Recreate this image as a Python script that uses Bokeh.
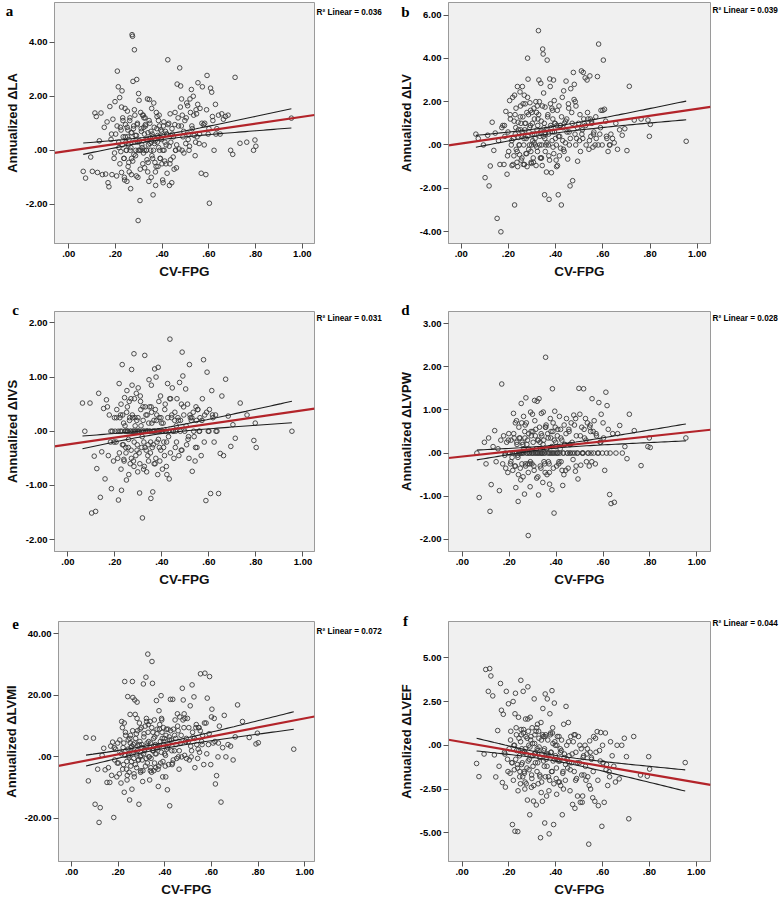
import numpy as np
from bokeh.plotting import figure
from bokeh.layouts import row, column
from bokeh.models import Range1d, FixedTicker, CustomJSTickFormatter, Label
from bokeh.embed import file_html
from bokeh.resources import INLINE

# ---------------- data ----------------
CV_FPG = [
    0.062, 0.072, 0.094, 0.101, 0.112, 0.118, 0.123, 0.131, 0.138, 0.144, 0.152, 0.158, 0.164, 0.168,
    0.172, 0.176, 0.181, 0.185, 0.189, 0.194, 0.198, 0.201, 0.205, 0.208, 0.212, 0.215,
    0.218, 0.221, 0.223, 0.226, 0.228, 0.231, 0.233, 0.236, 0.238, 0.241, 0.243, 0.245, 0.247, 0.249,
    0.251, 0.253, 0.255, 0.257, 0.259, 0.261, 0.263, 0.265,
    0.267, 0.269, 0.271, 0.273, 0.275, 0.277, 0.279, 0.281, 0.283, 0.285, 0.287, 0.289, 0.291, 0.293,
    0.295, 0.297, 0.299, 0.301, 0.303, 0.305, 0.308, 0.311, 0.314, 0.317,
    0.319, 0.321, 0.323, 0.325, 0.327, 0.329, 0.331, 0.333, 0.335, 0.337, 0.339, 0.341, 0.343, 0.345,
    0.347, 0.349, 0.351, 0.353, 0.355, 0.357, 0.359, 0.361, 0.364, 0.367,
    0.369, 0.372, 0.375, 0.377, 0.379, 0.382, 0.384, 0.386, 0.389, 0.391, 0.394, 0.396, 0.399, 0.402,
    0.405, 0.408, 0.411, 0.414, 0.417, 0.421, 0.424, 0.428,
    0.431, 0.434, 0.437, 0.441, 0.444, 0.447, 0.451, 0.454, 0.457, 0.461, 0.464, 0.468, 0.472, 0.475,
    0.479, 0.482, 0.486, 0.489, 0.493, 0.497,
    0.501, 0.505, 0.509, 0.513, 0.517, 0.521, 0.525, 0.529, 0.533, 0.537, 0.541, 0.545, 0.549, 0.553,
    0.558, 0.562, 0.567, 0.572,
    0.577, 0.582, 0.587, 0.592, 0.597, 0.602, 0.607, 0.612, 0.617, 0.622, 0.628, 0.634, 0.641, 0.648,
    0.655, 0.662,
    0.671, 0.682, 0.693, 0.702, 0.712, 0.733, 0.762, 0.791, 0.797, 0.801, 0.953,
    # denser core of the cloud
    0.183, 0.196, 0.207, 0.214, 0.219, 0.224, 0.229, 0.232, 0.237, 0.242,
    0.246, 0.250, 0.254, 0.258, 0.262, 0.266, 0.270, 0.274, 0.278, 0.282,
    0.286, 0.290, 0.294, 0.298, 0.302, 0.306, 0.310, 0.313, 0.316, 0.320,
    0.324, 0.328, 0.332, 0.336, 0.340, 0.344, 0.348, 0.352, 0.356, 0.360,
    0.363, 0.366, 0.370, 0.374, 0.378, 0.381, 0.385, 0.388, 0.392, 0.395,
    0.398, 0.403, 0.407, 0.412, 0.416, 0.420, 0.425, 0.430, 0.436, 0.442,
    0.448, 0.455, 0.462, 0.470, 0.478, 0.485, 0.492, 0.503, 0.511, 0.519,
    0.527, 0.535, 0.543, 0.552, 0.560, 0.570, 0.580, 0.590, 0.600, 0.615,
    0.226, 0.239, 0.252, 0.268, 0.281, 0.296, 0.309, 0.322, 0.338, 0.354,
    0.371, 0.387, 0.404, 0.419, 0.433, 0.458, 0.483, 0.515, 0.547, 0.630,
]

D_LA = [
    -0.78, -1.03, -0.25, -0.78, 1.38, 1.25, -0.82, 0.35, 1.38, -0.90, 0.85, -0.88, 1.05, -1.20,
    -1.35, 1.62, 0.40, -0.90, 1.15, -0.30, 1.80, 0.60, -0.95, 2.93, 2.35, 0.10,
    1.95, 0.85, -0.05, -0.82, 2.20, 1.20, 0.50, -0.30, -1.00, 1.55, 0.95, 0.30, 0.00, -1.15,
    1.45, 0.75, 0.20, -0.45, -0.80, 1.10, 0.00, -1.42,
    0.65, -0.30, 4.28, 4.22, 2.55, 0.80, -0.15, 3.72, 1.30, 0.55, 0.00, -0.95, 2.62, 0.95,
    0.30, -2.60, 2.10, 1.85, 0.00, -1.86, 1.40, 0.70, 0.10, -0.50,
    1.30, 0.85, 0.00, -0.65, 1.20, 0.90, 0.40, 0.00, -0.35, 1.90, 0.65, 0.20, -1.15, 1.88,
    1.00, 0.45, 0.00, -1.00, 1.55, 0.60, -0.30, -1.65, 1.75, 0.25,
    -0.45, -1.30, 1.40, 0.80, 0.30, -0.60, 1.10, 0.50, 0.00, -0.30, 0.75, 0.40, -0.50, -1.10,
    0.90, 0.00, -0.40, 0.70, 0.20, -0.85, 3.35, 1.00,
    -1.30, 1.35, 0.30, -1.20, 0.60, -0.25, -0.70, 0.95, 0.00, -0.65, 2.45, 1.20, 0.05, 3.05,
    2.38, 0.90, 1.30, 0.50, -0.10, 1.10,
    0.25, 1.75, 1.65, 0.60, 0.15, 1.40, 2.25, 0.80, 2.00, 0.55, -0.20, 1.50, 0.50, 2.50,
    0.25, 1.55, -0.85, 2.35,
    0.95, 1.00, -0.90, 2.77, 0.60, -1.96, 2.30, 2.15, 1.10, 0.00, 1.70, 0.80, 1.30, 0.60,
    1.35, 1.15,
    1.25, 1.30, 0.00, -0.15, 2.70, 0.26, 0.30, 0.00, 0.38, 0.15, 1.19,
    0.6, -0.1, 0.9, 0.3, -0.5, 0.75, 0.2, 1.1, -0.3, 0.5,
    0.0, 0.85, -0.6, 0.4, 1.2, 0.1, 0.65, -0.4, 0.9, 0.3,
    -0.2, 0.55, 1.0, 0.0, 0.35, -0.7, 0.8, 0.2, 1.3, -0.1,
    0.6, 0.95, 0.0, 0.4, -0.45, 1.1, 0.25, 0.7, -0.2, 0.5,
    0.0, 0.85, 0.35, -0.6, 1.25, 0.55, 0.1, 0.9, -0.3, 0.45,
    0.7, 0.0, 1.05, 0.3, -0.5, 0.6, 0.95, 0.15, -0.35, 0.8,
    0.5, 1.4, 0.2, 0.9, 1.6, 0.0, 0.7, 1.2, 0.4, 1.9,
    0.9, 1.3, 0.3, 1.7, 0.6, 1.0, 0.2, 1.5, 0.8, 1.25,
    1.6, -1.1, 0.5, -0.9, 1.5, -1.0, 0.0, 1.2, -0.8, 0.3,
    -0.8, 1.3, -1.2, 0.6, -0.5, 0.0, 1.9, 0.0, 1.35, 0.6,
]

D_LV = [
    0.50, 0.30, 0.00, -1.51, 0.45, -1.89, -0.97, 1.05, -0.25, 0.55, -3.39, 0.20, -0.90, -4.01,
    0.80, 0.90, -0.90, 0.40, 1.55, -1.35, 0.60, -0.30, 2.05, 1.20, 0.00, -0.95,
    2.20, 0.30, -0.50, -2.77, 1.40, 0.80, -0.20, -0.80, 2.70, 1.05, 0.35, 0.00, -0.45, 2.45,
    1.80, 1.00, 0.40, -0.60, 2.70, 1.30, -0.90, 0.00,
    2.30, 0.70, 1.90, 1.00, 0.30, -0.40, -1.00, 4.01, 3.04, 1.40, 0.60, 0.00, 1.95, 0.90,
    -0.30, -0.85, 1.50, 1.00, 0.20, -0.60, 1.70, 0.50, 0.00, -0.95,
    1.50, 0.70, -0.30, 1.20, 5.28, 3.00, 2.00, 0.40, -0.60, 2.85, 1.10, 0.00, -0.95, 4.43,
    4.20, 2.40, 0.80, -2.30, 1.75, 0.50, 0.00, -1.25, 3.92, 1.40,
    0.00, -2.51, 3.05, 2.70, 0.90, -1.28, 1.70, 0.60, -0.10, 3.00, 2.05, 1.00, 0.30, -0.70,
    0.90, -0.95, -2.30, 1.80, 0.40, -0.15, -2.77, 2.20,
    0.80, 2.50, 1.00, 0.10, 2.95, 1.20, -0.65, 1.90, 0.60, -1.89, 2.60, 1.50, -1.65, 3.35,
    2.80, 0.50, 1.80, 0.30, -0.75, 1.00,
    0.20, -0.30, 3.42, 0.70, 3.35, 1.00, 3.10, 0.00, 3.00, 1.20, -0.20, 3.19, 0.40, 1.00,
    -0.10, 0.60, 0.00, 0.30,
    3.16, 4.66, 0.50, 1.60, 0.00, 3.92, 1.65, 1.10, 0.30, -0.30, 0.00, 0.50, 0.30, 0.10,
    1.00, -0.20,
    0.70, 0.45, 0.75, -0.26, 2.71, 1.15, 1.20, 1.15, 0.40, 0.95, 0.17,
    0.9, -0.5, 1.4, 0.2, -0.9, 1.1, 0.5, 1.7, -0.3, 0.7,
    0.0, 1.3, -0.7, 0.6, 1.9, 0.3, 1.0, -0.4, 1.5, 0.4,
    -0.2, 0.8, 1.6, 0.0, 0.5, -0.8, 1.2, 0.3, 2.0, -0.1,
    0.9, 1.4, 0.0, 0.6, -0.6, 1.8, 0.4, 1.0, -0.3, 0.7,
    0.1, 1.3, 0.5, -0.7, 1.9, 0.8, 0.2, 1.2, -0.4, 0.6,
    1.0, 0.0, 1.6, 0.4, -0.5, 0.9, 1.3, 0.2, -0.3, 1.1,
    0.6, 1.7, 0.3, 1.0, 2.1, 0.0, 0.8, 1.4, 0.5, 1.2,
    0.9, 1.5, 0.2, 1.1, 0.5, 1.3, 0.0, 0.8, 1.6, 0.4,
    2.3, -1.0, 0.7, -0.9, 2.2, -0.8, 0.1, 1.8, -0.6, 0.3,
    -0.5, 1.6, -1.0, 0.9, -0.2, 0.0, 2.0, 0.3, 1.2, 0.0,
]

D_IVS = [
    0.52, 0.00, 0.52, -1.51, -0.46, -1.48, -0.69, 0.70, -1.22, -0.38, 0.42, -0.88, 0.58, 0.45,
    -0.45, 0.30, -0.20, -1.06, 0.00, -0.55, 0.25, 0.00, -0.20, 0.40, -0.50, -1.27,
    0.88, 0.25, 0.00, -0.70, -1.09, 1.23, 0.30, -0.25, -0.52, 0.62, 0.10, 0.00, -0.40, -0.90,
    0.75, 0.45, 0.00, -0.30, -0.80, 0.55, 0.25, -0.60,
    0.00, -0.35, 1.14, 0.85, 0.25, 0.00, -0.55, 1.43, 0.60, 0.25, 0.00, -0.45, 0.70, 0.20,
    -0.25, -0.75, 0.80, 0.00, -0.40, -1.14, 0.65, 0.10, -0.30, -1.60,
    0.45, 0.00, -0.20, -0.65, 1.40, 0.45, 0.00, -0.35, -0.75, 0.30, 0.00, -0.25, -0.55, 0.95,
    0.45, 0.00, -0.40, -1.24, 0.85, 0.15, -0.30, -1.12, 0.00, -0.60,
    1.15, 0.40, 1.00, 0.20, -0.20, -0.80, 1.18, 0.00, -0.30, -0.55, 0.65, 0.25, 0.00, -0.70,
    0.15, -0.20, -0.45, 0.50, 0.00, -0.80, 0.88, -0.10,
    -0.88, 1.70, 0.60, 0.25, 0.80, 0.00, -0.50, 0.20, -0.30, 0.10, 0.60, 0.25, -0.45, 0.90,
    0.20, -0.35, 1.46, 1.02, 0.30, 0.00,
    0.78, -0.25, 0.50, -0.10, 1.23, 0.25, 0.20, -0.74, 0.35, -0.10, -0.55, 0.45, -0.30, 0.40,
    0.00, 0.25, -0.45, 0.60,
    1.32, 0.30, -1.28, 1.09, 0.00, 0.40, -1.15, 0.75, 0.25, -0.20, 0.30, 0.00, -1.15, -0.41,
    0.65, -0.45,
    0.96, 0.28, -0.28, 0.12, -0.13, 0.52, 0.30, -0.17, 0.15, -0.30, 0.00,
    0.0, -0.2, 0.25, 0.0, -0.4, 0.3, 0.0, -0.25, 0.15, 0.0,
    -0.3, 0.35, 0.0, -0.15, 0.2, 0.0, -0.5, 0.3, 0.0, -0.2,
    0.1, 0.0, -0.35, 0.25, 0.0, -0.6, 0.4, 0.0, -0.1, 0.2,
    0.0, -0.3, 0.3, 0.0, -0.45, 0.15, 0.0, -0.2, 0.35, 0.0,
    -0.25, 0.2, 0.0, -0.5, 0.3, 0.0, -0.15, 0.25, 0.0, -0.35,
    0.15, 0.0, -0.3, 0.4, 0.0, -0.2, 0.25, 0.0, -0.4, 0.3,
    0.0, 0.35, -0.2, 0.2, 0.0, -0.35, 0.45, 0.1, -0.15, 0.3,
    0.25, 0.0, -0.3, 0.4, 0.0, 0.2, -0.2, 0.35, 0.0, 0.3,
    0.5, -0.55, 0.0, 0.6, -0.65, 0.0, 0.55, -0.7, 0.0, 0.45,
    -0.6, 0.55, 0.0, -0.65, 0.6, 0.0, 0.5, -0.5, 0.2, 0.0,
]

D_LVPW = [
    0.00, -1.03, 0.25, -0.25, 0.35, -1.35, -0.73, 0.15, 0.52, -0.20, 0.10, -0.87, 0.30, 1.60,
    -0.25, 0.40, -0.05, -0.35, 0.25, -0.45, 0.45, 0.00, -0.25, 0.30, -0.10, -0.40,
    0.92, 0.35, 0.00, -0.30, -0.80, 0.75, 0.20, -0.05, -1.12, 0.60, 0.35, 0.00, -0.35, -0.62,
    1.15, 0.70, 0.25, 0.00, -0.55, 0.85, 0.10, -0.95,
    0.35, -0.25, 1.28, 0.70, 0.20, 0.00, -0.25, -1.91, 0.45, 0.00, -0.25, -0.78, 0.95, 0.50,
    0.05, -0.25, 0.90, 0.50, 0.00, -0.30, 1.22, 0.40, 0.00, -0.58,
    1.20, 0.30, 0.00, -0.97, 1.26, 0.60, 0.25, 0.00, -0.35, 0.92, 0.40, 0.00, -0.68, 0.95,
    0.30, 0.00, -0.25, -0.45, 2.22, 0.65, 0.10, -0.50, 0.45, -0.20,
    0.00, -0.72, 0.80, 0.35, 0.00, -0.85, 1.49, 0.50, 0.00, -1.39, 0.97, 0.60, 0.15, -0.30,
    0.40, 0.00, -0.25, 0.85, 0.10, -0.20, 0.30, -0.75,
    0.00, 0.65, 0.20, -0.40, 0.80, 0.00, -0.35, 0.55, 0.20, 0.00, 0.70, 0.25, -0.15, 0.88,
    0.00, -0.42, 0.40, 0.00, -0.60, 1.50,
    0.90, -0.28, 0.60, 0.00, 1.49, 0.35, 0.80, -0.20, 0.70, 0.00, -0.30, 0.65, 0.00, 1.26,
    0.50, 0.75, -0.25, 0.40,
    0.00, 1.17, 0.25, 0.90, 0.00, 0.35, -0.40, 1.41, 1.10, 0.55, -0.96, -1.17, 0.45, -1.14,
    0.00, 0.45,
    0.64, 0.00, 0.15, -0.13, 0.90, 0.52, -0.29, 0.15, 0.35, 0.13, 0.35,
    0.0, 0.3, -0.2, 0.0, 0.45, -0.3, 0.0, 0.25, -0.1, 0.0,
    0.35, 0.0, -0.25, 0.2, 0.0, 0.5, -0.3, 0.0, 0.3, 0.1,
    0.0, -0.2, 0.4, 0.0, 0.25, -0.4, 0.0, 0.55, 0.1, 0.0,
    0.3, 0.0, -0.3, 0.45, 0.0, 0.2, -0.2, 0.0, 0.6, 0.1,
    0.0, 0.35, -0.25, 0.0, 0.5, 0.15, 0.0, -0.35, 0.3, 0.0,
    0.25, 0.0, 0.55, -0.2, 0.0, 0.35, -0.4, 0.0, 0.2, 0.45,
    0.0, 0.5, 0.2, 0.0, 0.65, -0.3, 0.0, 0.4, 0.0, 0.55,
    0.3, 0.0, 0.6, -0.2, 0.0, 0.45, 0.0, 0.25, 0.7, 0.0,
    0.7, -0.5, 0.0, 0.65, -0.45, 0.0, 0.75, -0.55, 0.0, 0.6,
    -0.45, 0.7, 0.0, 0.55, -0.5, 0.0, 0.8, 0.0, 0.5, 0.0,
]

D_LVMI = [
    6.3, -7.8, 6.1, -15.4, -4.0, -21.3, -16.5, 0.5, 2.8, -4.2, -8.3, -3.5, -8.3, 3.5,
    -6.0, 4.8, -19.7, -1.0, 2.5, -6.5, 4.5, -2.0, -5.5, 1.5, -8.5, 11.5,
    9.5, 3.0, -2.5, -11.5, 24.5, 8.0, 2.0, -4.0, -7.5, 19.6, 5.5, 0.5, -5.0, -14.0,
    13.8, 7.0, 3.0, -1.5, -10.5, 24.5, 19.3, 4.0,
    -0.5, -6.5, 18.5, 13.8, 6.0, 1.0, -3.5, 17.8, 8.5, 3.5, -1.0, -15.4, 11.0, 5.0,
    0.0, -4.5, 9.5, 4.0, -1.0, -8.0, 23.7, 7.5, 2.5, -3.0,
    25.9, 12.5, 3.5, -2.0, 33.4, 10.5, 5.0, 0.0, -7.5, 11.5, 4.5, -0.5, -5.0, 31.0,
    23.9, 8.0, 2.0, -4.5, 12.0, 6.5, 1.0, -3.5, 18.3, 9.0,
    3.0, -9.6, 15.0, 9.0, 3.5, -2.0, 19.9, 12.5, 6.0, -6.5, 9.5, 5.0, 1.0, -3.0,
    7.0, 2.5, -10.7, 9.0, 4.0, -15.9, 18.7, 5.5,
    -2.5, 18.7, 9.0, 2.0, 12.0, 6.0, -0.5, 14.0, 8.5, -4.0, 13.0, 4.5, 0.0, 22.3,
    18.5, 9.5, 12.5, 5.0, -0.5, 12.5,
    5.0, -1.0, 16.6, 0.0, 23.4, 6.5, 19.5, -3.5, 9.5, 4.0, -0.5, 9.5, 1.5, 27.0,
    5.0, 7.0, -2.5, 27.2,
    11.0, 19.1, 4.0, 26.1, -2.5, 15.5, 4.5, 12.5, -8.8, -6.1, 0.0, 10.0, -14.7, 3.0,
    13.5, 0.0,
    4.0, 3.5, -1.0, 6.5, 16.9, 11.5, 6.3, 4.2, 7.7, 4.6, 2.5,
    3.0, -2.0, 5.5, 1.0, -4.0, 4.5, 0.5, 7.0, -1.5, 2.5,
    0.0, 6.0, -3.0, 3.5, 8.5, 1.5, 4.5, -2.5, 7.5, 2.0,
    -1.0, 4.0, 9.0, 0.5, 3.0, -4.5, 6.5, 2.0, 10.0, -0.5,
    4.5, 8.0, 0.0, 3.0, -3.5, 9.5, 2.0, 6.0, -2.0, 4.0,
    1.0, 7.5, 3.5, -3.0, 10.5, 5.0, 1.5, 8.0, -1.5, 4.0,
    6.0, 0.5, 9.0, 3.0, -2.5, 5.5, 8.5, 2.0, -1.0, 7.0,
    4.0, 10.0, 2.0, 7.0, 12.0, 0.5, 6.0, 9.5, 3.5, 8.0,
    6.0, 10.5, 2.5, 8.5, 4.0, 11.0, 1.0, 7.5, 13.0, 5.0,
    11.0, -6.0, 4.5, -5.5, 12.5, -5.0, 1.0, 11.5, -4.5, 3.5,
    -4.0, 12.0, -6.5, 6.5, -2.0, 0.0, 14.0, 2.0, 9.5, 4.5,
]

D_LVEF = [
    -1.04, -1.79, -0.50, 4.33, 3.08, 4.38, 3.96, 2.82, -0.55, -1.81, 0.84, -1.20, 3.53, 2.00,
    -2.13, 1.77, -0.40, -2.39, 3.08, -0.80, 2.37, -0.20, -1.60, 0.80, -1.00, -4.53,
    2.50, 0.00, -1.40, -4.91, 2.97, 1.00, -0.30, -1.10, -4.93, 1.60, 0.40, -0.60, -1.50, -2.20,
    3.71, 0.60, -0.20, -1.00, -1.80, 3.08, 0.90, -1.50,
    -0.40, -2.10, 1.50, 0.50, -0.50, -1.30, -3.13, 3.34, 0.80, 0.00, -0.80, -3.97, 1.60, 0.30,
    -0.60, -1.70, 1.00, 0.10, -1.20, -3.19, 2.65, 0.60, -0.40, -3.41,
    1.00, -0.20, -1.00, -2.20, 0.80, -0.10, -0.70, -1.80, -5.28, 1.30, 0.30, -0.50, -3.20, 2.10,
    0.50, -0.30, -1.20, -4.44, 2.93, 0.60, -0.80, -2.90, 2.65, -0.50,
    -1.80, -5.06, 1.80, 0.60, -0.40, -1.50, 3.12, 0.70, -0.90, -4.53, 2.41, 0.20, -0.60, -1.90,
    0.00, -0.80, -2.10, 0.50, -0.90, -2.30, -0.30, -3.97,
    -1.50, 1.20, -0.50, -2.00, 2.22, 0.00, -1.30, 1.30, -0.60, -2.60, 0.50, -1.00, -3.38, 0.20,
    -1.50, -3.60, -0.40, -1.90, -2.90, 0.50,
    -1.00, -3.26, -0.20, -3.26, -0.70, -1.70, 0.00, -2.00, -0.50, -1.80, -5.65, 0.25, -2.50, -0.80,
    -3.00, 0.50, -3.20, -0.40,
    0.78, -3.45, -0.30, 0.73, -4.63, -1.00, -3.26, 0.70, -1.10, -2.30, -1.51, 0.20, -0.60, -1.20,
    -2.10, 0.00,
    -1.92, 0.00, 0.40, -0.65, -4.20, 0.50, -1.70, -1.77, -0.65, -1.36, -0.99,
    -0.5, -1.5, 0.3, -1.0, -2.0, 0.0, -0.8, 0.6, -1.3, -0.3,
    -1.8, 0.2, -1.1, -0.4, 0.7, -1.6, -0.2, -2.2, 0.4, -0.9,
    -1.4, -0.1, 0.5, -1.9, -0.6, -2.3, 0.1, -1.0, 0.8, -1.5,
    -0.3, 0.4, -1.7, -0.7, -2.1, 0.6, -0.9, -0.2, -1.8, -0.5,
    -1.2, 0.3, -0.6, -2.0, 0.7, -0.4, -1.5, 0.1, -2.2, -0.8,
    0.0, -1.3, 0.5, -0.9, -2.1, -0.4, 0.3, -1.6, -0.7, -1.1,
    -0.8, 0.2, -1.4, -0.5, 0.6, -2.0, -1.0, 0.0, -1.7, -0.6,
    -1.2, -0.2, -2.3, -0.7, -1.5, 0.4, -2.0, -0.9, 0.0, -1.4,
    1.8, -2.6, 0.9, -2.5, 1.5, -2.4, -0.5, 1.2, -2.7, 0.5,
    -2.6, 1.0, -2.8, -0.2, -2.5, -1.0, 0.6, -2.9, -0.4, -1.8,
]

X_TICKS = [0.0, 0.2, 0.4, 0.6, 0.8, 1.0]
Y_TICKS_LA = [-2, 0, 2, 4]
Y_TICKS_LV = [-4, -2, 0, 2, 4, 6]
Y_TICKS_IVS = [-2, -1, 0, 1, 2]
Y_TICKS_LVPW = [-2, -1, 0, 1, 2, 3]
Y_TICKS_LVMI = [-20, 0, 20, 40]
Y_TICKS_LVEF = [-5, -2.5, 0, 2.5, 5]

PANEL_LETTERS = ["a", "b", "c", "d", "e", "f"]
Y_LABELS = ["Annualized \u0394LA", "Annualized \u0394LV", "Annualized \u0394IVS",
            "Annualized \u0394LVPW", "Annualized \u0394LVMI", "Annualized \u0394LVEF"]
R2_VALUES = ["0.036", "0.039", "0.031", "0.028", "0.072", "0.044"]
# linear fit: intercept, slope
FIT_INTERCEPT = [-0.02, 0.07, -0.245, -0.08, -2.1, 0.18]
FIT_SLOPE = [1.26, 1.60, 0.63, 0.587, 14.6, -2.30]
# 95% CI of the mean: half-width at the centre and its growth with distance
CI_H0 = [0.085, 0.16, 0.05, 0.037, 0.93, 0.16]
CI_K = [0.60, 0.70, 0.334, 0.336, 4.71, 1.02]

Y_SERIES = [D_LA, D_LV, D_IVS, D_LVPW, D_LVMI, D_LVEF]
Y_TICKS = [Y_TICKS_LA, Y_TICKS_LV, Y_TICKS_IVS, Y_TICKS_LVPW, Y_TICKS_LVMI, Y_TICKS_LVEF]

# ---------------- layout / style ----------------
X_RANGES = [(-0.061, 1.052), (-0.054, 1.056), (-0.057, 1.049),
            (-0.059, 1.058), (-0.056, 1.042), (-0.058, 1.061)]
Y_RANGES = [(-3.45, 5.47), (-4.55, 6.58), (-2.22, 2.21),
            (-2.28, 3.28), (-34.0, 44.0), (-6.64, 7.07)]
ROW_H = [300, 300, 301]
ROW_TOP = [2, 11, 21]
ROW_BOT = [57, 49, 40]
COL_W = [392, 392]
COL_BL = [54, 56]
COL_BR = [78, 74]
LETTER_POS = [(9, 10), (13, 11), (15, 9), (13, 9), (15, 23), (13, 20)]
R2_Y = [12, 10, 18, 18, 31, 23]

fmt = CustomJSTickFormatter(code="""
const s = tick.toFixed(2);
if (s.startsWith("0.")) return s.slice(1);
if (s.startsWith("-0.")) return "-" + s.slice(2);
return s;
""")

FONT = "Liberation Sans"
xs_all = np.array(CV_FPG, dtype=float)


def make_panel(i):
    r, c = divmod(i, 2)
    w, h = COL_W[c], ROW_H[r]
    p = figure(width=w, height=h,
               x_range=Range1d(*X_RANGES[i]), y_range=Range1d(*Y_RANGES[i]),
               output_backend="svg", toolbar_location=None,
               min_border_left=COL_BL[c], min_border_right=COL_BR[c],
               min_border_top=ROW_TOP[r], min_border_bottom=ROW_BOT[r])
    p.background_fill_color = "#f0f0f0"
    p.border_fill_color = "white"
    p.outline_line_color = "#9a9a9a"
    p.outline_line_width = 1
    p.grid.visible = False

    p.xaxis.ticker = FixedTicker(ticks=X_TICKS)
    p.yaxis.ticker = FixedTicker(ticks=Y_TICKS[i])
    p.xaxis.formatter = fmt
    p.yaxis.formatter = fmt
    p.xaxis.axis_label = "CV-FPG"
    p.yaxis.axis_label = Y_LABELS[i]
    for ax in (p.xaxis[0], p.yaxis[0]):
        ax.axis_line_color = "#9a9a9a"
        ax.major_tick_line_color = "#555555"
        ax.major_tick_out = 5
        ax.major_tick_in = 0
        ax.minor_tick_line_color = None
        ax.major_label_text_font = FONT
        ax.major_label_text_font_style = "bold"
        ax.major_label_text_font_size = "9.5px"
        ax.major_label_text_color = "black"
        ax.major_label_standoff = 2
        ax.axis_label_text_font = FONT
        ax.axis_label_text_font_style = "bold"
        ax.axis_label_text_color = "#111111"
    p.xaxis.axis_label_text_font_size = "13.5px"
    p.xaxis.axis_label_standoff = 4
    p.yaxis.axis_label_text_font_size = "13px"
    p.yaxis.axis_label_standoff = 3

    ys = np.array(Y_SERIES[i], dtype=float)
    n = min(len(xs_all), len(ys))
    p.scatter(xs_all[:n], ys[:n], marker="circle", size=4.6, fill_color=None,
              line_color="#3a3a3a", line_width=0.9)

    b0, b1 = FIT_INTERCEPT[i], FIT_SLOPE[i]
    xc = float(np.mean(xs_all))
    xx = np.linspace(xs_all.min(), xs_all.max(), 60)
    yhat = b0 + b1 * xx
    hw = np.sqrt(CI_H0[i] ** 2 + (CI_K[i] * (xx - xc)) ** 2)
    p.line(xx, yhat + hw, line_color="#1e1e1e", line_width=1.1)
    p.line(xx, yhat - hw, line_color="#1e1e1e", line_width=1.1)

    xr = np.array(X_RANGES[i])
    p.line(xr, b0 + b1 * xr, line_color="#b3242a", line_width=2.2)

    # both texts sit in the right side panel (not clipped, positioned in canvas pixels)
    lx, ly = LETTER_POS[i]
    p.add_layout(Label(x=lx, y=ly, x_units="canvas", y_units="canvas",
                       text=PANEL_LETTERS[i], text_font="Liberation Serif",
                       text_font_style="bold", text_font_size="15px",
                       text_align="center", text_baseline="middle", text_color="black"), "right")
    frame_right = w - COL_BR[c]
    p.add_layout(Label(x=frame_right + 2, y=R2_Y[i], x_units="canvas", y_units="canvas",
                       text="R\u00b2 Linear = " + R2_VALUES[i], text_font=FONT,
                       text_font_style="bold", text_font_size="8.2px",
                       text_align="left", text_baseline="middle", text_color="black"), "right")
    return p


panels = [make_panel(i) for i in range(6)]
layout = column(row(panels[0], panels[1]), row(panels[2], panels[3]), row(panels[4], panels[5]))

open("out.html", "w").write(file_html(layout, INLINE))
